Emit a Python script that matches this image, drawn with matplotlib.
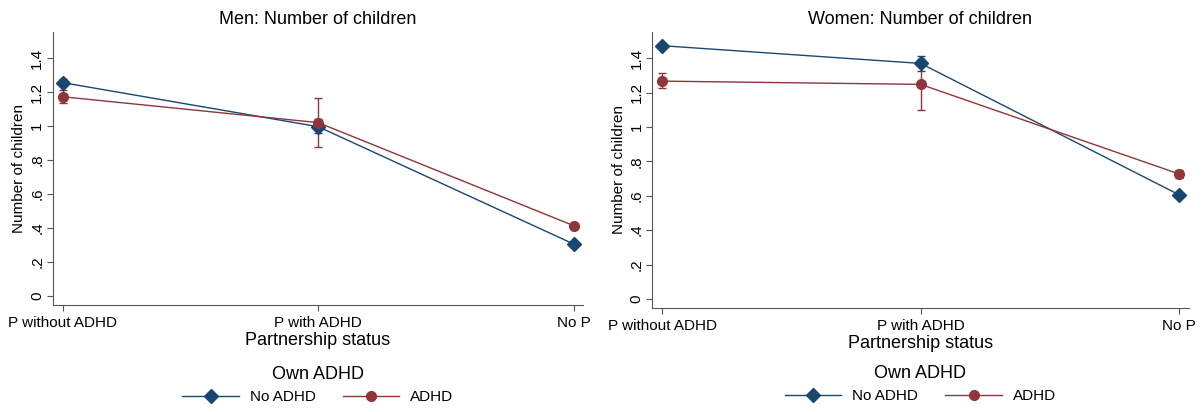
import numpy as np
import matplotlib.pyplot as plt
from matplotlib.lines import Line2D

plt.rcParams['font.family'] = ['Liberation Sans', 'DejaVu Sans']

categories = ['P without ADHD', 'P with ADHD', 'No P']
yticks = [0, 0.2, 0.4, 0.6, 0.8, 1.0, 1.2, 1.4]
ytick_labels = ['0', '.2', '.4', '.6', '.8', '1', '1.2', '1.4']

# Men
men_no_adhd = [1.255, 0.996, 0.306]
men_no_adhd_lo = [1.235, 0.960, 0.296]
men_no_adhd_hi = [1.275, 1.040, 0.316]
men_adhd = [1.172, 1.020, 0.414]
men_adhd_lo = [1.133, 0.875, 0.400]
men_adhd_hi = [1.212, 1.163, 0.428]

# Women
women_no_adhd = [1.473, 1.370, 0.606]
women_no_adhd_lo = [1.460, 1.327, 0.596]
women_no_adhd_hi = [1.486, 1.415, 0.616]
women_adhd = [1.267, 1.248, 0.727]
women_adhd_lo = [1.225, 1.099, 0.703]
women_adhd_hi = [1.312, 1.397, 0.751]

navy = '#1a476f'
maroon = '#90353b'

fig = plt.figure(figsize=(12.03, 4.12), dpi=100)
ax1 = fig.add_axes([0.0438, 0.2597, 0.4408, 0.6626])
ax2 = fig.add_axes([0.542, 0.2524, 0.446, 0.67])


def panel(ax, title, no, no_lo, no_hi, ad, ad_lo, ad_hi, ty, ly):
    x = np.arange(len(categories))
    no, ad = np.array(no), np.array(ad)
    ax.errorbar(x, no, yerr=[no - np.array(no_lo), np.array(no_hi) - no],
                color=navy, lw=1, marker='D', ms=7, capsize=3, elinewidth=1)
    ax.errorbar(x, ad, yerr=[ad - np.array(ad_lo), np.array(ad_hi) - ad],
                color=maroon, lw=1, marker='o', ms=7, capsize=3, elinewidth=1)
    ax.set_xlim(-0.04, 2.037)
    ax.set_ylim(-0.053, 1.553)
    ax.set_xticks(x)
    ax.set_xticklabels(categories, fontsize=11)
    ax.set_yticks(yticks)
    ax.set_yticklabels(ytick_labels, rotation=90, va='center', fontsize=11)
    ax.spines['top'].set_visible(False)
    ax.spines['right'].set_visible(False)
    ax.spines['left'].set_color('#555555')
    ax.spines['bottom'].set_color('#555555')
    ax.tick_params(length=4, width=0.8, color='#555555', pad=2)
    ax.tick_params(axis='x', pad=4)
    ax.set_ylabel('Number of children', fontsize=11, labelpad=3)
    ax.set_xlabel('Partnership status', fontsize=13, labelpad=1)
    ax.set_title(title, fontsize=13, pad=6)
    handles = [Line2D([], [], color=navy, lw=1, marker='D', ms=7),
               Line2D([], [], color=maroon, lw=1, marker='o', ms=7)]
    ax.text(0.5, ty, 'Own ADHD', transform=ax.transAxes, ha='center',
            va='center', fontsize=13)
    ax.legend(handles, ['No ADHD', 'ADHD'], loc='center',
              bbox_to_anchor=(0.5, ly), ncol=2, frameon=False,
              fontsize=11, handlelength=3.7, columnspacing=1.8,
              handletextpad=0.7)


panel(ax1, 'Men: Number of children', men_no_adhd, men_no_adhd_lo, men_no_adhd_hi,
      men_adhd, men_adhd_lo, men_adhd_hi, -0.256, -0.337)
panel(ax2, 'Women: Number of children', women_no_adhd, women_no_adhd_lo, women_no_adhd_hi,
      women_adhd, women_adhd_lo, women_adhd_hi, -0.239, -0.319)

fig.savefig('out.png', dpi=100)
